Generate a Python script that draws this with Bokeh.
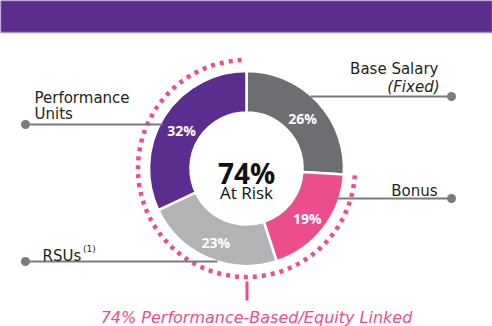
import numpy as np
from bokeh.plotting import figure
from bokeh.models import Range1d
from bokeh.core.properties import value
from bokeh.embed import file_html
from bokeh.resources import INLINE

# ---- data ----
categories = ["Base Salary", "Bonus", "RSUs", "Performance Units"]
shares = [26, 19, 23, 32]
pct_labels = ["26%", "19%", "23%", "32%"]
colors = ["#6D6E71", "#EC4D8C", "#B2B3B5", "#5B2D8E"]
at_risk_label = "74%"
at_risk_sub = "At Risk"
footer = "74% Performance-Based/Equity Linked"

W, H = 492, 326
def Y(y):
    return H - y

FONT = "Open Sans"
LFONT = "DejaVu Sans"
PINK = "#EC4D8C"
LINE = "#7A7B7E"
TXT = "#231F20"

p = figure(width=W, height=H, output_backend="svg", toolbar_location=None,
           x_range=Range1d(0, W), y_range=Range1d(0, H), min_border=0)
p.axis.visible = False
p.grid.visible = False
p.outline_line_color = None
p.background_fill_color = "white"

# banner
p.quad(left=[0], right=[W], top=[Y(0)], bottom=[Y(32)], fill_color="#5B2D8E",
       line_color="#A48FCB", line_width=1.5)

cx, cy = 246, Y(168)
r_in, r_out = 56, 97.5

total = float(sum(shares))
cum = np.concatenate([[0], np.cumsum(shares)]) / total
start = np.pi / 2 - cum[:-1] * 2 * np.pi
end = np.pi / 2 - cum[1:] * 2 * np.pi
p.annular_wedge(x=cx, y=cy, inner_radius=r_in, outer_radius=r_out,
                start_angle=list(start), end_angle=list(end), direction="clock",
                fill_color=colors, line_color="white", line_width=2.5)

# dotted at-risk arc
p.arc(x=cx, y=cy, radius=108.5, start_angle=start[1], end_angle=np.pi / 2 + 0.03,
      direction="clock", line_color=PINK, line_width=4.5, line_dash="4 5")
p.segment(x0=[246.5], y0=[Y(281)], x1=[246.5], y1=[Y(300)], line_color=PINK, line_width=3)

# leader lines
lx0 = [451, 451, 25, 25]
lx1 = [310, 337, 217, 162]
ly = [96, 198, 261, 124]
p.segment(x0=lx0, y0=[Y(v) for v in ly], x1=lx1, y1=[Y(v) for v in ly],
          line_color=LINE, line_width=2)
p.scatter(x=lx0, y=[Y(v) for v in ly], size=9, fill_color=LINE, line_color=None)

# percentage labels
mid = (start + end) / 2
r_lab = 77
px = cx + r_lab * np.cos(mid)
py = cy + r_lab * np.sin(mid) - 3
p.text(x=list(px), y=list(py), text=pct_labels, text_color="white",
       text_font=value(FONT), text_font_style="bold", text_font_size="14px",
       text_align="center", text_baseline="middle")

# center
p.text(x=[cx], y=[Y(172)], text=[at_risk_label], text_font=value(FONT),
       text_font_style="bold", text_font_size="28px", text_color="#111111",
       text_align="center", text_baseline="alphabetic")
p.text(x=[cx], y=[Y(192)], text=[at_risk_sub], text_font=value(FONT),
       text_font_size="17px", text_color="#111111",
       text_align="center", text_baseline="alphabetic")

# category labels
lab = dict(text_font=value(LFONT), text_font_size="15px", text_color=TXT,
           text_baseline="alphabetic")
p.text(x=[438], y=[Y(68)], text=[categories[0]], text_align="right", **lab)
p.text(x=[439], y=[Y(86)], text=["(Fixed)"], text_align="right", text_font_style="italic", **lab)
p.text(x=[437], y=[Y(190)], text=[categories[1]], text_align="right", **lab)
p.text(x=[34, 34], y=[Y(97.5), Y(113)], text=["Performance", "Units"], text_align="left", **lab)
p.text(x=[42], y=[Y(255)], text=[categories[2]], text_align="left", **lab)
p.text(x=[82.5], y=[Y(248.5)], text=["(1)"], text_font=value(LFONT), text_font_size="9px",
       text_color=TXT, text_align="left", text_baseline="alphabetic")

# footer
p.text(x=[256], y=[Y(317)], text=[footer], text_font=value(LFONT), text_font_size="16px",
       text_font_style="italic", text_color=PINK, text_align="center", text_baseline="alphabetic")

open("out.html", "w").write(file_html(p, INLINE))
